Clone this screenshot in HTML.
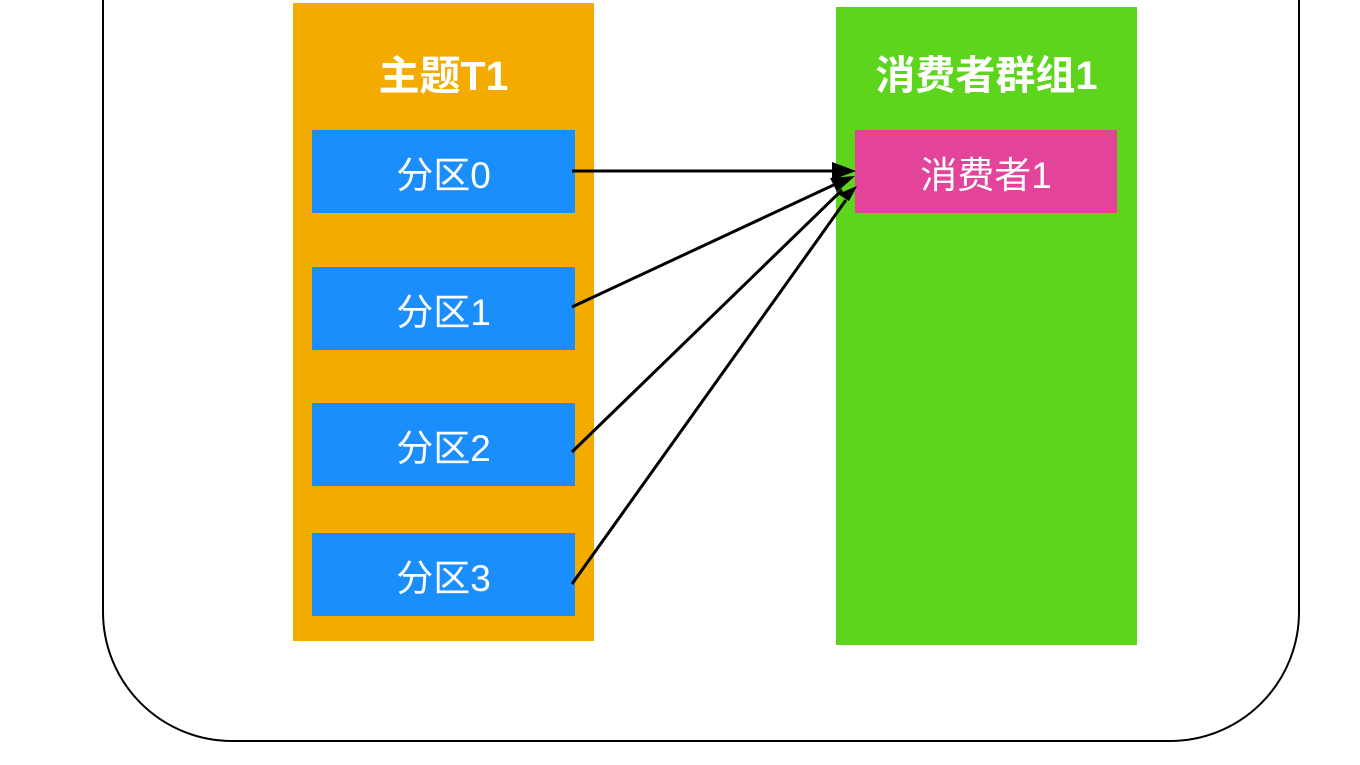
<!DOCTYPE html>
<html><head><meta charset="utf-8"><style>
body{margin:0;width:1360px;height:765px;background:#fff;position:relative;overflow:hidden;font-family:"Liberation Sans","Noto Sans CJK SC",sans-serif}
.a{position:absolute;box-sizing:border-box}
.t{color:#fff;display:flex;align-items:center;justify-content:center}
</style></head><body>
<div class="a" style="left:102px;top:-200px;width:1198px;height:942px;border:2px solid #000;border-radius:130px"></div>
<div class="a" style="left:293px;top:3px;width:301px;height:638px;background:#f3ab00"></div>
<div class="a t" style="left:293px;top:46px;width:301px;height:52px;font-size:41px;font-weight:bold">主题T1</div>
<div class="a t" style="left:312px;top:130px;width:263px;height:83px;background:#1b8efe;font-size:37px">分区0</div>
<div class="a t" style="left:312px;top:267px;width:263px;height:83px;background:#1b8efe;font-size:37px">分区1</div>
<div class="a t" style="left:312px;top:403px;width:263px;height:83px;background:#1b8efe;font-size:37px">分区2</div>
<div class="a t" style="left:312px;top:533px;width:263px;height:83px;background:#1b8efe;font-size:37px">分区3</div>
<div class="a" style="left:836px;top:7px;width:301px;height:638px;background:#5cd51c"></div>
<div class="a t" style="left:836px;top:46px;width:301px;height:52px;font-size:40px;font-weight:bold">消费者群组1</div>
<div class="a t" style="left:855px;top:130px;width:262px;height:83px;background:#e3449a;font-size:37px">消费者1</div>
<svg class="a" style="left:0;top:0" width="1360" height="765">
<g stroke="#000" stroke-width="3" fill="none">
<line x1="572" y1="171" x2="840" y2="171"/>
<line x1="572" y1="307" x2="840" y2="182"/>
<line x1="572" y1="452" x2="842" y2="190"/>
<line x1="572" y1="584" x2="846" y2="200"/>
</g>
<g fill="#000">
<polygon points="856,171 832,162 832,180"/>
<polygon points="855,176 830,178 837,192"/>
<polygon points="857,186 838,194 849,201"/>
</g>
</svg>
</body></html>
